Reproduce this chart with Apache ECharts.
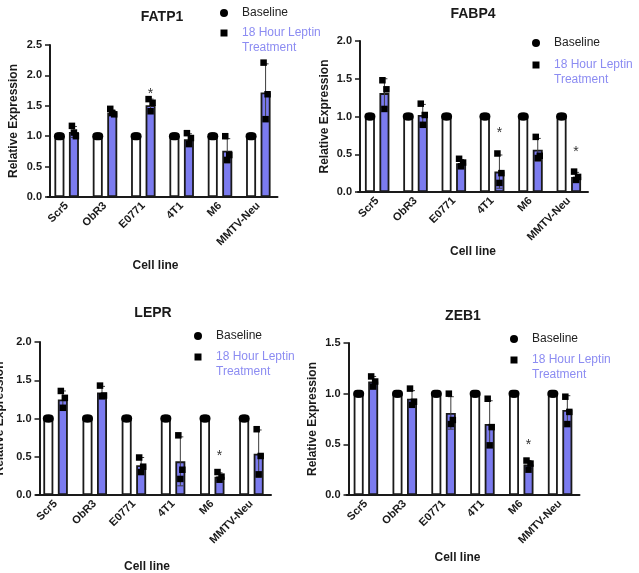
<!DOCTYPE html>
<html>
<head>
<meta charset="utf-8">
<script src="https://cdn.jsdelivr.net/npm/echarts@6/dist/echarts.min.js"></script>
<style>
  html, body { margin: 0; padding: 0; background: #fff; }
  #chart { width: 639px; height: 573px; }
</style>
</head>
<body>
<div id="chart"></div>
<script>
// 数据
var cellLines = ['Scr5', 'ObR3', 'E0771', '4T1', 'M6', 'MMTV-Neu']
var baselineValue = [1, 1, 1, 1, 1, 1]
var baselinePoints = [1, 1, 1]

var fatp1Mean = [1.07, 1.39, 1.51, 0.95, 0.76, 1.72]
var fatp1Sd = [0.09, 0.04, 0.10, 0.09, 0.20, 0.47]
var fatp1Points = [[1.17, 1.00, 1.06], [1.45, 1.36, 1.38], [1.61, 1.55, 1.41], [1.05, 0.97, 0.87], [1.00, 0.69, 0.61], [2.21, 1.69, 1.28]]
var fatp1Star = [null, null, 1.76, null, null, null]

var fabp4Mean = [1.31, 1.02, 0.38, 0.27, 0.56, 0.20]
var fabp4Sd = [0.19, 0.14, 0.05, 0.22, 0.15, 0.06]
var fabp4Points = [[1.48, 1.36, 1.10], [1.17, 1.02, 0.89], [0.44, 0.39, 0.34], [0.51, 0.25, 0.12], [0.73, 0.48, 0.45], [0.27, 0.20, 0.16]]
var fabp4Star = [null, null, null, 0.83, null, 0.58]

var leprMean = [1.25, 1.34, 0.39, 0.44, 0.24, 0.54]
var leprSd = [0.11, 0.08, 0.10, 0.32, 0.05, 0.31]
var leprPoints = [[1.36, 1.27, 1.14], [1.43, 1.30, 1.29], [0.49, 0.37, 0.30], [0.78, 0.33, 0.21], [0.30, 0.24, 0.20], [0.86, 0.51, 0.27]]
var leprStar = [null, null, null, null, 0.56, null]

var zeb1Mean = [1.12, 0.95, 0.81, 0.70, 0.30, 0.84]
var zeb1Sd = [0.05, 0.08, 0.16, 0.23, 0.04, 0.14]
var zeb1Points = [[1.17, 1.12, 1.07], [1.05, 0.92, 0.89], [1.00, 0.74, 0.70], [0.95, 0.67, 0.49], [0.34, 0.31, 0.25], [0.97, 0.82, 0.70]]
var zeb1Star = [null, null, null, null, 0.53, null]

// 样式
var FONT = '"Liberation Sans", Arial, sans-serif'
var BAR_BLUE = '#7b7bef'
var LEGEND_BLUE = '#8c8cf2'
var INK = '#1a1a1a'
var BAR_W = 10
var SHIFT = 7.25 // 半个(柱宽 + 间隔)
var baseJitter = [-1.5, 1.5, 0]
var jitter = [-2, 2, 0]

var panels = [
  { title: 'FATP1', mean: fatp1Mean, sd: fatp1Sd, points: fatp1Points, star: fatp1Star, yMax: 2.5,
    grid: { left: 47.5, top: 45, width: 230, height: 152 }, yOffset: -2.5,
    titleX: 162, titleY: 10, yNameGap: 30, xNameGap: 63, xNamePad: 14, legend: [224, 13, 20] },
  { title: 'FABP4', mean: fabp4Mean, sd: fabp4Sd, points: fabp4Points, star: fabp4Star, yMax: 2.0,
    grid: { left: 358, top: 41, width: 230, height: 151 }, yOffset: -2,
    titleX: 473, titleY: 7, yNameGap: 29, xNameGap: 46, xNamePad: 0, legend: [536, 43, 22] },
  { title: 'LEPR', mean: leprMean, sd: leprSd, points: leprPoints, star: leprStar, yMax: 2.0,
    grid: { left: 36, top: 342, width: 235, height: 153 }, yOffset: -3.5,
    titleX: 153, titleY: 306, yNameGap: 34, xNameGap: 66, xNamePad: 13, legend: [198, 336, 21] },
  { title: 'ZEB1', mean: zeb1Mean, sd: zeb1Sd, points: zeb1Points, star: zeb1Star, yMax: 1.5,
    grid: { left: 346.5, top: 343, width: 233, height: 152 }, yOffset: -2,
    titleX: 463, titleY: 309, yNameGap: 30, xNameGap: 57, xNamePad: 11, legend: [514, 339, 21] }
]

var option = {
  backgroundColor: '#fff',
  animation: false,
  title: [],
  grid: [],
  xAxis: [],
  yAxis: [],
  series: [],
  graphic: []
}

panels.forEach(function (p, i) {
  option.title.push({
    text: p.title, left: p.titleX, top: p.titleY, textAlign: 'center', padding: 0,
    textStyle: { fontFamily: FONT, fontSize: 14, fontWeight: 'bold', color: INK }
  })
  // 固定网格位置，不让名称把网格挤开
  var g = Object.assign({ outerBoundsMode: 'none', containLabel: false }, p.grid)
  option.grid.push(g)
  option.xAxis.push({
    gridIndex: i,
    type: 'category',
    data: cellLines,
    name: 'Cell line',
    nameLocation: 'middle',
    nameGap: p.xNameGap,
    nameTextStyle: { fontFamily: FONT, fontSize: 12, fontWeight: 'bold', color: INK, padding: [0, p.xNamePad, 0, 0] },
    axisLine: { lineStyle: { color: INK, width: 2 } },
    axisTick: { alignWithLabel: true, length: 5, lineStyle: { color: INK, width: 1.5 } },
    axisLabel: { rotate: 45, interval: 0, fontFamily: FONT, fontSize: 11, fontWeight: 'bold', color: INK, margin: 7 }
  })
  option.yAxis.push({
    gridIndex: i,
    type: 'value',
    min: 0,
    max: p.yMax,
    interval: 0.5,
    offset: p.yOffset,
    name: 'Relative Expression',
    nameLocation: 'middle',
    nameGap: p.yNameGap,
    nameTextStyle: { fontFamily: FONT, fontSize: 12, fontWeight: 'bold', color: INK },
    axisLine: { show: true, lineStyle: { color: INK, width: 2 } },
    axisTick: { show: true, length: 5, lineStyle: { color: INK, width: 1.5 } },
    axisLabel: {
      fontFamily: FONT, fontSize: 11, fontWeight: 'bold', color: INK, margin: 8,
      formatter: function (v) { return v.toFixed(1) }
    },
    splitLine: { show: false }
  })

  // 柱子
  option.series.push({
    name: 'Baseline', type: 'bar', xAxisIndex: i, yAxisIndex: i,
    data: baselineValue, barWidth: BAR_W, barGap: '45%',
    itemStyle: { color: '#fff', borderColor: INK, borderWidth: 1.8 }
  })
  option.series.push({
    name: '18 Hour Leptin Treatment', type: 'bar', xAxisIndex: i, yAxisIndex: i,
    data: p.mean, barWidth: BAR_W, barGap: '45%',
    itemStyle: { color: BAR_BLUE, borderColor: INK, borderWidth: 1.8 }
  })

  // 误差线 (mean ± SD)
  option.series.push({
    type: 'custom', xAxisIndex: i, yAxisIndex: i, z: 3,
    data: p.mean.map(function (m, k) { return [k, m, p.sd[k]] }),
    encode: { x: 0, y: 1 },
    renderItem: function (params, api) {
      var c = api.value(0), m = api.value(1), s = api.value(2)
      var top = api.coord([c, m + s])
      var bot = api.coord([c, m - s])
      var x = top[0] + SHIFT
      var st = { stroke: '#3c3c3c', lineWidth: 1 }
      return {
        type: 'group',
        children: [
          { type: 'line', shape: { x1: x, y1: top[1], x2: x, y2: bot[1] }, style: st },
          { type: 'line', shape: { x1: x - 3, y1: top[1], x2: x + 3, y2: top[1] }, style: st },
          { type: 'line', shape: { x1: x - 3, y1: bot[1], x2: x + 3, y2: bot[1] }, style: st }
        ]
      }
    }
  })

  // 散点
  var basePts = []
  var treatPts = []
  cellLines.forEach(function (c, k) {
    baselinePoints.forEach(function (v, j) {
      basePts.push({ value: [k, v], symbolOffset: [-SHIFT + baseJitter[j], 0] })
    })
    p.points[k].forEach(function (v, j) {
      treatPts.push({ value: [k, v], symbolOffset: [SHIFT + jitter[j], 0] })
    })
  })
  option.series.push({
    type: 'scatter', xAxisIndex: i, yAxisIndex: i, z: 4,
    symbol: 'circle', symbolSize: 8, itemStyle: { color: '#000', opacity: 1 },
    data: basePts
  })
  option.series.push({
    type: 'scatter', xAxisIndex: i, yAxisIndex: i, z: 4,
    symbol: 'rect', symbolSize: 6.5, itemStyle: { color: '#000', opacity: 1 },
    data: treatPts
  })

  // 显著性星号
  var stars = []
  p.star.forEach(function (v, k) { if (v != null) stars.push([k, v]) })
  option.series.push({
    type: 'custom', xAxisIndex: i, yAxisIndex: i, z: 5,
    data: stars,
    encode: { x: 0, y: 1 },
    renderItem: function (params, api) {
      var pt = api.coord([api.value(0), api.value(1)])
      return {
        type: 'text', x: pt[0] + SHIFT, y: pt[1] + 4,
        style: { text: '*', fill: '#333', font: '14px ' + FONT, align: 'center', verticalAlign: 'middle' }
      }
    }
  })

  // 图例
  var lx = p.legend[0], ly = p.legend[1], ly2 = ly + p.legend[2]
  option.graphic.push(
    { type: 'circle', shape: { cx: lx, cy: ly, r: 4 }, style: { fill: '#000' } },
    { type: 'text', x: lx + 18, y: ly, style: { text: 'Baseline', fill: '#222', font: '12px ' + FONT, verticalAlign: 'middle' } },
    { type: 'rect', shape: { x: lx - 3.5, y: ly2 - 3.5, width: 7, height: 7 }, style: { fill: '#000' } },
    { type: 'text', x: lx + 18, y: ly2 - 7.5, style: { text: '18 Hour Leptin\nTreatment', fill: LEGEND_BLUE, font: '12px ' + FONT, lineHeight: 15, verticalAlign: 'top' } }
  )
})

var chart = echarts.init(document.getElementById('chart'))
chart.setOption(option)
</script>
</body>
</html>
